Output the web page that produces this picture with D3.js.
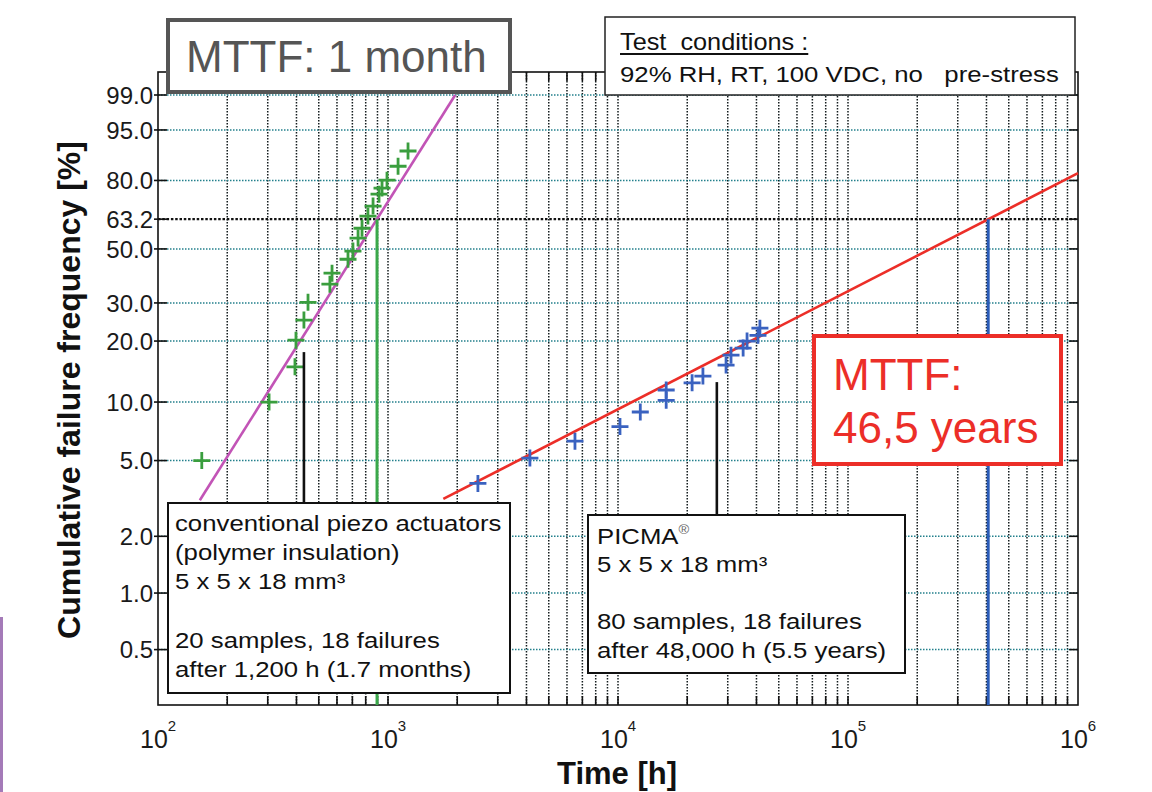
<!DOCTYPE html>
<html>
<head>
<meta charset="utf-8">
<script src="https://cdn.jsdelivr.net/npm/d3@7"></script>
<style>
  body { margin: 0; background: #fff; }
  svg { display: block; font-family: "Liberation Sans", Arial, sans-serif; }
</style>
</head>
<body>
<svg id="chart" width="1152" height="792"></svg>
<script>
// time axis (hours), log scale
const xTickValues = [1e2, 1e3, 1e4, 1e5, 1e6];
const xTickExponents = ["2", "3", "4", "5", "6"];
// cumulative failure frequency (%), Weibull scale
const yTickValues = [0.5, 1, 2, 5, 10, 20, 30, 50, 63.2, 80, 95, 99];
const yTickLabels = ["0.5", "1.0", "2.0", "5.0", "10.0", "20.0", "30.0", "50.0", "63.2", "80.0", "95.0", "99.0"];

// conventional piezo actuators (green crosses)
const convTime = [155, 304, 394, 398, 431, 449, 559, 571, 670, 704, 741, 771, 818, 861, 914, 942, 990, 1106, 1222];
const convFail = [5.0, 10.0, 15.0, 20.2, 25.1, 30.2, 36.2, 40.2, 45.7, 49.1, 54.7, 59.1, 64.6, 69.1, 74.3, 76.9, 80.1, 85.3, 90.1];

// PICMA (blue crosses)
const picmaTime = [2460, 4140, 6500, 10200, 12500, 16200, 16200, 21000, 23400, 29500, 31000, 35000, 36400, 40600, 41400];
const picmaFail = [3.8, 5.15, 6.3, 7.5, 8.9, 10.2, 11.5, 12.5, 13.5, 15.3, 17.1, 18.5, 20.0, 21.3, 23.0];

// fitted lines (end points)
const convFitTime = [152, 1960];
const convFitFail = [3.1, 99.0];
const picmaFitTime = [1740, 1e6];
const picmaFitFail = [3.15, 82.8];

// MTTF drop lines at 63.2 %
const mttfTime = [896, 407000];
const mttfColor = ["#3aa84a", "#2a5cb8"];

// pointer lines from boxes to data
const pointerTime = [431, 26900];
const pointerFail = [17.7, 12.6];
const pointerBottom = [503, 515];

const svg = d3.select("#chart");
const plotLeft = 158, plotRight = 1078, plotTop = 72, plotBottom = 705;

const x = d3.scaleLog().domain([1e2, 1e6]).range([plotLeft, plotRight]);
const weib = p => Math.log(-Math.log(1 - p / 100));
const yLin = d3.scaleLinear().domain([weib(0.5), weib(99)]).range([649.6, 95]);
const y = p => yLin(weib(p));

// faint slide edge
svg.append("rect").attr("x", 0).attr("y", 617).attr("width", 3).attr("height", 175).attr("fill", "#a47ab8");

// grid
const grid = svg.append("g");
const xGrid = x.ticks().filter(d => d > 1e2 && d < 1e6);
grid.selectAll("line.vx").data(xGrid).enter().append("line")
  .attr("x1", d => x(d)).attr("x2", d => x(d))
  .attr("y1", plotTop).attr("y2", plotBottom)
  .attr("stroke", "#141c1e").attr("stroke-width", 1.5)
  .attr("stroke-dasharray", "1.5,1.5");
grid.selectAll("line.hy").data(yTickValues.filter(d => d !== 63.2)).enter().append("line")
  .attr("x1", plotLeft).attr("x2", plotRight)
  .attr("y1", d => y(d)).attr("y2", d => y(d))
  .attr("stroke", "#23808c").attr("stroke-width", 1.5)
  .attr("stroke-dasharray", "1.5,1.5");
grid.append("line")
  .attr("x1", plotLeft).attr("x2", plotRight)
  .attr("y1", y(63.2)).attr("y2", y(63.2))
  .attr("stroke", "#111").attr("stroke-width", 2.4)
  .attr("stroke-dasharray", "2.5,1.8");

// frame and ticks
const axes = svg.append("g").attr("stroke", "#111").attr("stroke-width", 1.6);
axes.append("rect").attr("x", plotLeft).attr("y", plotTop)
  .attr("width", plotRight - plotLeft).attr("height", plotBottom - plotTop).attr("fill", "none");
axes.selectAll("line.yl").data(yTickValues).enter().append("line")
  .attr("x1", plotLeft - 4).attr("x2", plotLeft + 9).attr("y1", d => y(d)).attr("y2", d => y(d));
axes.selectAll("line.yr").data(yTickValues).enter().append("line")
  .attr("x1", plotRight - 9).attr("x2", plotRight).attr("y1", d => y(d)).attr("y2", d => y(d));
axes.selectAll("line.xb").data(xGrid).enter().append("line")
  .attr("x1", d => x(d)).attr("x2", d => x(d)).attr("y1", plotBottom - 9).attr("y2", plotBottom);
axes.selectAll("line.xt").data(xGrid).enter().append("line")
  .attr("x1", d => x(d)).attr("x2", d => x(d)).attr("y1", plotTop).attr("y2", plotTop + 9);

// y tick labels
svg.append("g").selectAll("text").data(yTickValues).enter().append("text")
  .attr("x", plotLeft - 5).attr("y", d => y(d)).attr("dy", "0.36em")
  .attr("text-anchor", "end").attr("font-size", 24).attr("fill", "#1a1a1a")
  .text((d, i) => yTickLabels[i]);

// x tick labels 10^n
const xl = svg.append("g").selectAll("text").data(xTickValues).enter().append("text")
  .attr("x", d => x(d) - 18).attr("y", 748).attr("font-size", 25).attr("fill", "#1a1a1a");
xl.append("tspan").text("10");
xl.append("tspan").attr("dy", -17).attr("font-size", 15).text((d, i) => xTickExponents[i]);

// axis titles
svg.append("text").attr("x", 617).attr("y", 784).attr("text-anchor", "middle")
  .attr("font-size", 31).attr("font-weight", "bold").attr("fill", "#111").text("Time [h]");
svg.append("text").attr("transform", "translate(80,390) rotate(-90)")
  .attr("text-anchor", "middle").attr("font-size", 32).attr("font-weight", "bold")
  .attr("fill", "#111").text("Cumulative failure frequency [%]");

// fitted lines
const line = d3.line().x(d => x(d[0])).y(d => y(d[1]));
svg.append("path").datum(d3.zip(convFitTime, convFitFail)).attr("d", line)
  .attr("fill", "none").attr("stroke", "#c254b6").attr("stroke-width", 2.6);
svg.append("path").datum(d3.zip(picmaFitTime, picmaFitFail)).attr("d", line)
  .attr("fill", "none").attr("stroke", "#ec2e28").attr("stroke-width", 2.6);

// MTTF drop lines
svg.selectAll("line.mttf").data(mttfTime).enter().append("line")
  .attr("x1", d => x(d)).attr("x2", d => x(d))
  .attr("y1", y(63.2)).attr("y2", plotBottom)
  .attr("stroke", (d, i) => mttfColor[i]).attr("stroke-width", 3);

// crosses
function crosses(times, fails, color) {
  const s = 8.5;
  const g = svg.append("g").attr("stroke", color).attr("stroke-width", 2.8);
  const pts = d3.zip(times, fails);
  g.selectAll("path").data(pts).enter().append("path")
    .attr("d", d => {
      const cx = x(d[0]), cy = y(d[1]);
      return `M${cx - s},${cy}H${cx + s}M${cx},${cy - s}V${cy + s}`;
    });
}
crosses(convTime, convFail, "#3a9e3e");
crosses(picmaTime, picmaFail, "#3a62c0");

// pointer lines
svg.selectAll("line.ptr").data(pointerTime).enter().append("line")
  .attr("x1", d => x(d)).attr("x2", d => x(d))
  .attr("y1", (d, i) => y(pointerFail[i])).attr("y2", (d, i) => pointerBottom[i])
  .attr("stroke", "#111").attr("stroke-width", 2.6);

// boxes
function box(x0, y0, w, h, stroke, sw) {
  svg.append("rect").attr("x", x0).attr("y", y0).attr("width", w).attr("height", h)
    .attr("fill", "#fff").attr("stroke", stroke).attr("stroke-width", sw);
}
function stretched(x0, y0, str, size, sx, color) {
  return svg.append("text").attr("transform", `translate(${x0},${y0}) scale(${sx},1)`)
    .attr("font-size", size).attr("fill", color || "#111")
    .style("white-space", "pre").text(str);
}

// MTTF: 1 month
box(168, 20, 342, 72, "#555", 4);
svg.append("text").attr("x", 186).attr("y", 72).attr("font-size", 44).attr("fill", "#555")
  .text("MTTF: 1 month");

// test conditions
box(605, 17, 470, 78, "#222", 1.5);
const tc = stretched(620, 50, "Test  conditions :", 23, 1.1);
const tcw = tc.node().getComputedTextLength() * 1.1;
svg.append("line").attr("x1", 620).attr("x2", 620 + tcw).attr("y1", 54).attr("y2", 54)
  .attr("stroke", "#111").attr("stroke-width", 2);
stretched(620, 82, "92% RH, RT, 100 VDC, no   pre-stress", 23, 1.12);

// MTTF 46,5 years
box(814, 336, 247, 128, "#ec2e28", 4);
svg.append("text").attr("x", 833).attr("y", 390).attr("font-size", 44).attr("fill", "#ec2e28").text("MTTF:");
svg.append("text").attr("x", 833).attr("y", 443).attr("font-size", 44).attr("fill", "#ec2e28").text("46,5 years");

// conventional box
box(168, 503, 342, 190, "#111", 2);
const convLines = ["conventional piezo actuators", "(polymer insulation)", "5 x 5 x 18 mm³", "", "20 samples, 18 failures", "after 1,200 h (1.7 months)"];
convLines.forEach((t, i) => { if (t) stretched(175, 531 + i * 29.2, t, 23, 1.12); });

// PICMA box
box(588, 515, 317, 158, "#111", 2);
const pic = stretched(597, 544, "PICMA", 23, 1.12);
pic.append("tspan").attr("dy", -10).attr("font-size", 13).attr("fill", "#666").text("®");
const picLines = ["5 x 5 x 18 mm³", "", "80 samples, 18 failures", "after 48,000 h (5.5 years)"];
picLines.forEach((t, i) => { if (t) stretched(597, 572 + i * 28.5, t, 23, 1.12); });
</script>
</body>
</html>
